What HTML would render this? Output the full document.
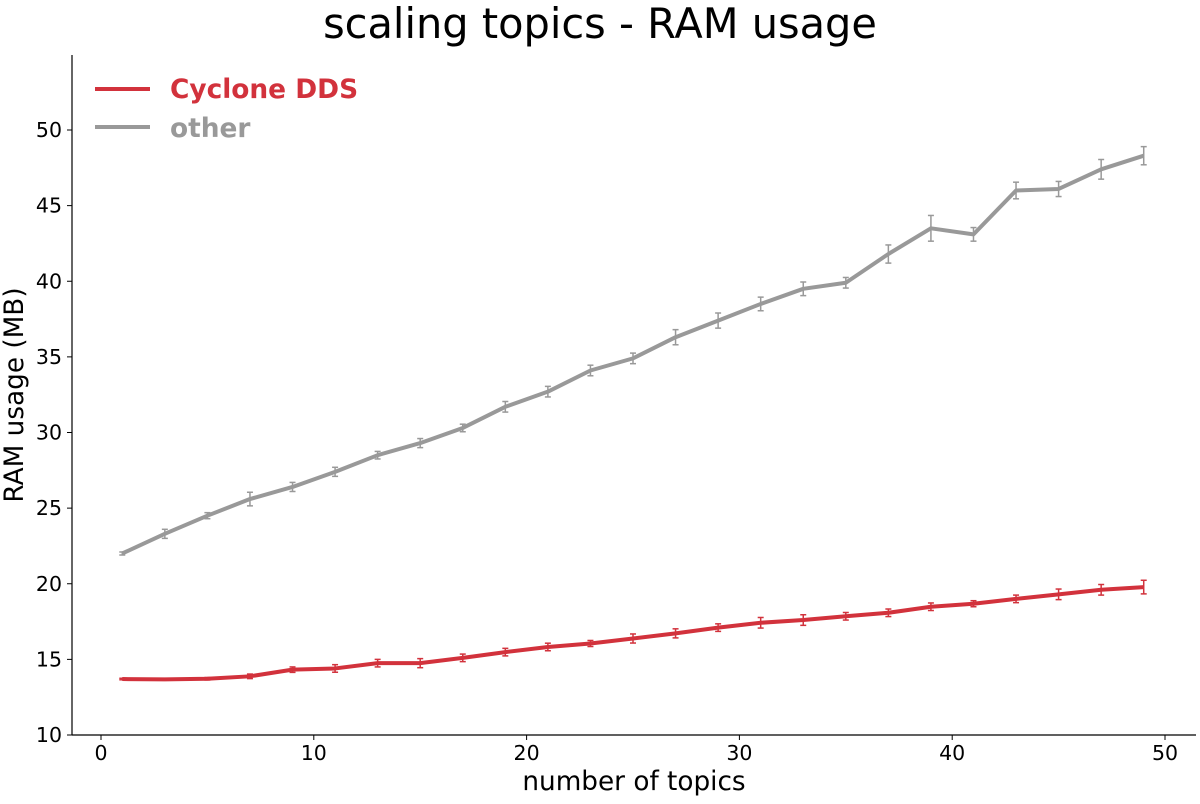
<!DOCTYPE html>
<html><head><meta charset="utf-8"><style>
body{margin:0;background:#fff;font-family:"DejaVu Sans","Liberation Sans",sans-serif}
svg text{font-family:"DejaVu Sans","Liberation Sans",sans-serif}
</style></head><body>
<svg id="c" width="1200" height="800" xmlns="http://www.w3.org/2000/svg"></svg>
<script>
const xs=[1,3,5,7,9,11,13,15,17,19,21,23,25,27,29,31,33,35,37,39,41,43,45,47,49];
const otherVals=[22.0,23.3,24.5,25.6,26.4,27.4,28.5,29.3,30.3,31.7,32.7,34.1,34.9,36.3,37.4,38.5,39.5,39.9,41.8,43.5,43.1,46.0,46.1,47.4,48.3];
const otherErr=[0.1,0.3,0.2,0.45,0.3,0.3,0.25,0.3,0.25,0.35,0.35,0.35,0.35,0.5,0.5,0.45,0.45,0.35,0.6,0.85,0.45,0.55,0.5,0.65,0.6];
const cycVals=[13.7,13.68,13.72,13.88,14.32,14.4,14.75,14.75,15.1,15.48,15.82,16.05,16.38,16.72,17.1,17.42,17.6,17.85,18.08,18.48,18.68,19.0,19.3,19.6,19.78];
const cycErr=[0.05,0.05,0.08,0.15,0.18,0.25,0.25,0.3,0.25,0.25,0.25,0.2,0.3,0.3,0.25,0.35,0.35,0.25,0.25,0.25,0.2,0.25,0.35,0.35,0.45];
const xTicks=[0,10,20,30,40,50];
const yTicks=[10,15,20,25,30,35,40,45,50];
const X=v=>101+v*21.28, Y=v=>735-(v-10)*15.125;
const svg=document.getElementById('c');const NS='http://www.w3.org/2000/svg';
function el(t,a,txt){const e=document.createElementNS(NS,t);for(const k in a)e.setAttribute(k,a[k]);if(txt!==undefined)e.textContent=txt;svg.appendChild(e);return e;}
let e;
e=el('text',{x:600,y:38,'text-anchor':'middle','font-size':41.5},'scaling topics - RAM usage');


e=el('line',{x1:72,y1:55,x2:72,y2:735,stroke:'#000','stroke-width':1.2});


e=el('line',{x1:72,y1:735,x2:1196,y2:735,stroke:'#000','stroke-width':1.2});


xTicks.forEach(t=>{el('line',{x1:X(t),y1:735,x2:X(t),y2:740,stroke:'#000'});
e=el('text',{x:X(t),y:760,'text-anchor':'middle','font-size':20.5},t);

});
yTicks.forEach(t=>{el('line',{x1:67,y1:Y(t),x2:72,y2:Y(t),stroke:'#000'});
e=el('text',{x:62,y:Y(t)+7,'text-anchor':'end','font-size':20.5},t);

});
e=el('text',{x:634,y:790,'text-anchor':'middle','font-size':26.3},'number of topics');


e=el('text',{x:0,y:0,'text-anchor':'middle','font-size':26.3,transform:'translate(23,395) rotate(-90)'},'RAM usage (MB)');


function series(vals,err,col,name){
 err.forEach((d,i)=>{const x=X(xs[i]);
  el('line',{x1:x,x2:x,y1:Y(vals[i]-d),y2:Y(vals[i]+d),stroke:col,'stroke-width':1.5});
  el('line',{x1:x-3,x2:x+3,y1:Y(vals[i]-d),y2:Y(vals[i]-d),stroke:col,'stroke-width':1.5});
  el('line',{x1:x-3,x2:x+3,y1:Y(vals[i]+d),y2:Y(vals[i]+d),stroke:col,'stroke-width':1.5});});
 const p=el('polyline',{points:vals.map((v,i)=>X(xs[i])+','+Y(v)).join(' '),fill:'none',stroke:col,'stroke-width':4,'stroke-linejoin':'round'});
 
 
}
series(otherVals,otherErr,'#999999','line-other');
series(cycVals,cycErr,'#d2323c','line-cyclone-dds');
el('line',{x1:95,x2:150,y1:89,y2:89,stroke:'#d2323c','stroke-width':4});
e=el('text',{x:170,y:98,'font-size':26.4,'font-weight':'bold',fill:'#d2323c'},'Cyclone DDS');


el('line',{x1:95,x2:150,y1:127,y2:127,stroke:'#999999','stroke-width':4});
e=el('text',{x:170,y:137,'font-size':26.4,'font-weight':'bold',fill:'#999999'},'other');


</script>
</body></html>
